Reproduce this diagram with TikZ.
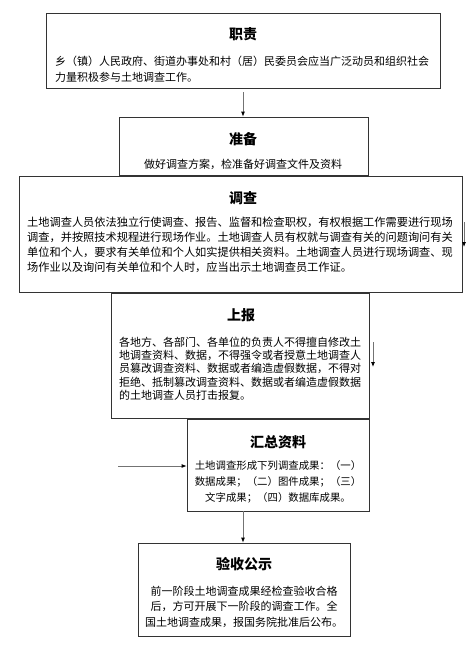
\documentclass[tikz,border=0pt]{standalone}
\usepackage{fontspec}
\setmainfont{Noto Sans CJK SC}
\usetikzlibrary{arrows.meta}

\tikzset{
  box/.style 2 args={draw=black!80, line width=0.8pt, minimum width=#1, minimum height=#2, inner sep=0pt},
  head/.style={font=\fontsize{14}{16}\selectfont\bfseries, inner sep=0pt},
  body/.style={font=\fontsize{11}{#1}\selectfont, inner sep=0pt},
  arrow/.style={draw=black!55, line width=0.8pt, -{Latex[length=5pt,width=4pt,black]}}
}

\begin{document}
\begin{tikzpicture}[x=1pt,y=-1pt]
        \useasboundingbox (0,0) rectangle (469,645);
        % boxes
        \node[box={394pt}{75pt}] (duty) at (243,50.5) {};
        \node[box={249pt}{58pt}] (prep) at (243.5,146) {};
        \node[box={443pt}{116pt}] (survey) at (240.5,234.5) {};
        \node[box={258pt}{125pt}] (report) at (240,355.5) {};
        \node[box={182pt}{92pt}] (summary) at (278,465) {};
        \node[box={212pt}{93pt}] (accept) at (244,589.5) {};
        % titles
        \node[head] (dutyhead) at (243,34) {职责};
        \node[head] (prephead) at (243,139) {准备};
        \node[head] (surveyhead) at (243,198) {调查};
        \node[head] (reporthead) at (241,315) {上报};
        \node[head] (summaryhead) at (278,442) {汇总资料};
        \node[head] (accepthead) at (244,564) {验收公示};
        % texts
        \node[body=16pt, align=left, anchor=west] (dutytext) at (55,69) {乡（镇）人民政府、街道办事处和村（居）民委员会应当广泛动员和组织社会\\力量积极参与土地调查工作。};
        \node[body=14pt, align=center] (preptext) at (243,164) {做好调查方案，检准备好调查文件及资料};
        \node[body=15pt, align=left, anchor=west, font=\fontsize{11.2}{15}\selectfont] (surveytext) at (27,245) {土地调查人员依法独立行使调查、报告、监督和检查职权，有权根据工作需要进行现场\\调查，并按照技术规程进行现场作业。土地调查人员有权就与调查有关的问题询问有关\\单位和个人，要求有关单位和个人如实提供相关资料。土地调查人员进行现场调查、现\\场作业以及询问有关单位和个人时，应当出示土地调查员工作证。};
        \node[body=13.3pt, align=left, anchor=west] (reporttext) at (119,368.5) {各地方、各部门、各单位的负责人不得擅自修改土\\地调查资料、数据，不得强令或者授意土地调查人\\员篡改调查资料、数据或者编造虚假数据，不得对\\拒绝、抵制篡改调查资料、数据或者编造虚假数据\\的土地调查人员打击报复。};
        \node[body=16pt, align=center, font=\fontsize{10.4}{16}\selectfont] (summarytext) at (278,482) {土地调查形成下列调查成果：（一）\\数据成果；（二）图件成果；（三）\\文字成果；（四）数据库成果。};
        \node[body=15.5pt, align=center] (accepttext) at (244,606.5) {前一阶段土地调查成果经检查验收合格\\后，方可开展下一阶段的调查工作。全\\国土地调查成果，报国务院批准后公布。};
        % arrows
        \coordinate (surveytop) at (464,222);
        \coordinate (surveyend) at (464,247);
        \coordinate (reporttop) at (373,342);
        \coordinate (reportend) at (373,367);
        \coordinate (summaryin) at (118,466);
        \draw[arrow] ([yshift=-4pt]duty.south -| 243,0) -- (prep.north -| 243,0);
        \draw[arrow] (surveytop) -- (surveyend);
        \draw[arrow] (reporttop) -- (reportend);
        \draw[arrow] (summaryin) -- (summaryin -| summary.west);
        \draw[arrow] (summary.south -| 243,0) -- (accept.north -| 243,0);
    \end{tikzpicture}
\end{document}
